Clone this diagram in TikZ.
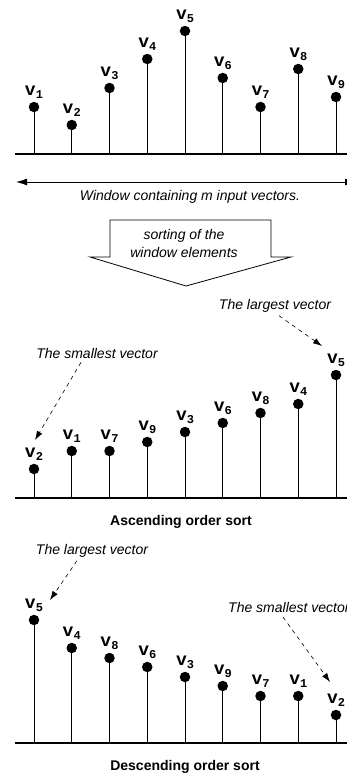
\documentclass[tikz,border=0pt]{standalone}
\usepackage{fontspec}
\setmainfont{Liberation Sans}
\newfontfamily\vfont{Liberation Mono}
\usetikzlibrary{arrows.meta,positioning}

% label of one vector: v with its index
\newcommand{\vname}[1]{{\vfont\bfseries\fontsize{18}{18}\selectfont v}%
  {\vfont\bfseries\fontsize{12}{12}\selectfont\raisebox{-3pt}{#1}}}

\begin{document}
\begin{tikzpicture}[x=1pt,y=-1pt,
  dot/.style={circle,fill=black,inner sep=0pt,minimum size=10.5pt},
  vlab/.style={inner sep=0pt},
  stem/.style={line width=0.8pt},
  axis/.style={line width=1.6pt},
  note/.style={font=\itshape\fontsize{14}{18}\selectfont,inner sep=1pt},
  caption/.style={font=\bfseries\fontsize{14}{14}\selectfont,inner sep=1pt},
  pointer/.style={dashed,dash pattern=on 4pt off 4pt,line width=0.6pt,-{Latex[length=9pt,width=6pt]}}]
  \useasboundingbox (0,0) rectangle (347,774);

  % input window
  \coordinate (ba) at (15,154);
  \coordinate (ea) at (350,154);
  \draw[axis] (ba) -- (ea);
  \foreach \n/\h [count=\i] in {1/47,2/29,3/66,4/95,5/123,6/76,7/47,8/85,9/57} {
    \coordinate (fa\i) at ({34+37.75*(\i-1)},154);
    \node[dot] (da\i) at ({34+37.75*(\i-1)},{154-\h}) {};
    \node[vlab,above=3pt of da\i] {\vname{\n}};
    \draw[stem] (fa\i) -- (da\i);
  }
  \coordinate (w1) at (16,182);
  \coordinate (w2) at (356,182);
  \draw[line width=0.8pt,{Latex[length=11pt,width=7pt]}-{Latex[length=11pt,width=7pt]}] (w1) -- (w2);
  \node[note] (window) at (190,197) {Window containing m input vectors.};

  % sorting arrow
  \draw[line width=0.8pt] (110,220) -- (271,220) -- (271,257) -- (291,257) -- (186,286)
    -- (90,257) -- (110,257) -- cycle;
  \node[note,align=center] (sorting) at (184,243) {sorting of the\\window elements};

  % ascending order
  \coordinate (bb) at (15,498);
  \coordinate (eb) at (350,498);
  \draw[axis] (bb) -- (eb);
  \foreach \n/\h [count=\i] in {2/29,1/47,7/47,9/56,3/66,6/75,8/85,4/94,5/123} {
    \coordinate (fb\i) at ({34+37.75*(\i-1)},498);
    \node[dot] (db\i) at ({34+37.75*(\i-1)},{498-\h}) {};
    \node[vlab,above=3pt of db\i] {\vname{\n}};
    \draw[stem] (fb\i) -- (db\i);
  }
  \node[note] (largeb) at (275,306) {The largest vector};
  \coordinate (tipb9) at (322,346);
  \draw[pointer] ([xshift=4pt,yshift=-2pt]largeb.south) -- (tipb9);
  \node[note] (smallb) at (97,353) {The smallest vector};
  \coordinate (tipb1) at (35,440);
  \draw[pointer] ([xshift=-16pt,yshift=-3pt]smallb.south) -- (tipb1);
  \node[caption] (asc) at (181,522) {Ascending order sort};

  % descending order
  \coordinate (bc) at (15,743);
  \coordinate (ec) at (350,743);
  \draw[axis] (bc) -- (ec);
  \foreach \n/\h [count=\i] in {5/123,4/95,8/85,6/76,3/66,9/57,7/47,1/47,2/28} {
    \coordinate (fc\i) at ({34+37.75*(\i-1)},743);
    \node[dot] (dc\i) at ({34+37.75*(\i-1)},{743-\h}) {};
    \node[vlab,above=3pt of dc\i] {\vname{\n}};
    \draw[stem] (fc\i) -- (dc\i);
  }
  \node[note] (largec) at (92,551) {The largest vector};
  \coordinate (tipc1) at (50,600);
  \draw[pointer] ([xshift=-15pt,yshift=-2pt]largec.south) -- (tipc1);
  \node[note,anchor=west] (smallc) at (227,607) {The smallest vector};
  \coordinate (tipc9) at (330,682);
  \draw[pointer] (283,617) -- (tipc9);
  \node[caption] (desc) at (185,767) {Descending order sort};
\end{tikzpicture}
\end{document}
